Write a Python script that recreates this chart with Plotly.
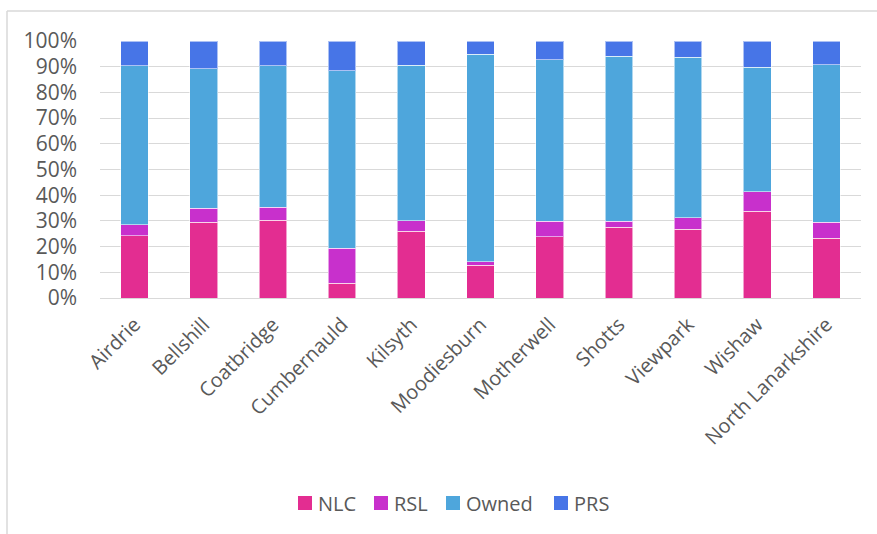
import plotly.graph_objects as go

# Housing tenure share by area (percent of dwellings)
areas = ["Airdrie", "Bellshill", "Coatbridge", "Cumbernauld", "Kilsyth", "Moodiesburn",
         "Motherwell", "Shotts", "Viewpark", "Wishaw", "North Lanarkshire"]
nlc = [24.3, 29.5, 30.3, 5.8, 26.0, 12.8, 23.9, 27.6, 26.8, 33.8, 23.3]
rsl = [4.3, 5.4, 5.0, 13.5, 4.1, 1.4, 5.9, 2.2, 4.5, 7.5, 6.2]
owned = [61.8, 54.4, 55.1, 69.2, 60.5, 80.6, 63.0, 64.2, 62.4, 48.5, 61.3]
prs = [9.6, 10.7, 9.6, 11.5, 9.4, 5.2, 7.2, 6.0, 6.3, 10.2, 9.2]

series = [("NLC", nlc, "#E32D91"), ("RSL", rsl, "#C830CC"),
          ("Owned", owned, "#4EA6DC"), ("PRS", prs, "#4775E7")]

FONT = "Open Sans"
TXT = "#595959"
GRID = "#D9D9D9"

fig = go.Figure()
for name, vals, col in series:
    fig.add_trace(go.Bar(
        x=areas, y=vals, name=name, showlegend=False,
        marker=dict(color=col, line=dict(color="rgba(255,255,255,0.55)", width=1)),
    ))

L, R, T, B = 100, 16, 41, 236
W, H = 877, 534
pw = W - L - R
ph = H - T - B


def px_x(x):
    return (x - L) / pw


def px_y(y):
    return (T + ph - y) / ph


fig.update_layout(
    width=W, height=H,
    margin=dict(l=L, r=R, t=T, b=B),
    barmode="stack", barnorm="percent", bargap=0.6,
    paper_bgcolor="white", plot_bgcolor="white",
    font=dict(family=FONT, color=TXT, size=20),
    showlegend=False,
)
fig.update_xaxes(tickangle=-45, showgrid=False, showline=False, ticks="",
                 ticklabelstandoff=10, tickfont=dict(size=20, color=TXT))
fig.update_yaxes(range=[0, 100], dtick=10, ticksuffix="%", showgrid=True,
                 gridcolor=GRID, gridwidth=1.3, zeroline=True, zerolinecolor=GRID,
                 zerolinewidth=1.3, showline=False, ticks="", ticklabelstandoff=22,
                 tickfont=dict(size=21, color=TXT))

# legend row: colour square followed by series name
legend_left = [298, 374, 446, 554]
sq = 14
ly = 503
for (name, _, col), lx in zip(series, legend_left):
    fig.add_shape(type="rect", xref="paper", yref="paper",
                  x0=px_x(lx), x1=px_x(lx + sq), y0=px_y(ly + sq / 2), y1=px_y(ly - sq / 2),
                  fillcolor=col, line=dict(width=0))
    fig.add_annotation(xref="paper", yref="paper", x=px_x(lx + sq + 4), y=px_y(ly),
                       xanchor="left", yanchor="middle", text=name, showarrow=False,
                       font=dict(family=FONT, size=20, color=TXT))

# chart-area border (left and top edges)
x0 = px_x(7)
y0 = px_y(11)
fig.add_shape(type="line", xref="paper", yref="paper", x0=x0, x1=x0, y0=y0, y1=-2,
              line=dict(color=GRID, width=1.5))
fig.add_shape(type="line", xref="paper", yref="paper", x0=x0, x1=2, y0=y0, y1=y0,
              line=dict(color=GRID, width=1.5))

fig.write_html("out.html")
